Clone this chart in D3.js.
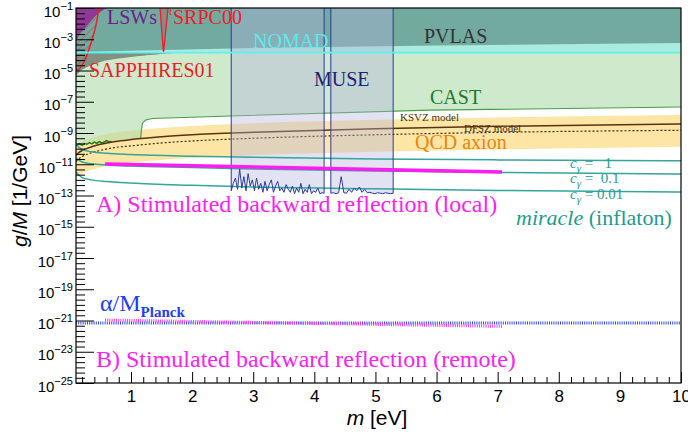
<!DOCTYPE html>
<html>
<head>
<meta charset="utf-8">
<script src="https://d3js.org/d3.v7.min.js"></script>
<style>
  body { margin: 0; background: #fff; }
  svg { display: block; }
  .serif { font-family: "Liberation Serif", "Times New Roman", serif; }
  .sans { font-family: "Liberation Sans", Arial, sans-serif; }
</style>
</head>
<body>
<div id="chart"></div>
<script>
// ---- data (m in eV, g/M in 1/GeV) ----
var qcdM      = [0.1, 0.15, 0.2, 0.3, 0.5, 0.75, 1, 1.5, 2, 3, 5, 7, 10];
var qcdTop    = [1.4e-10, 2.1e-10, 2.8e-10, 4.2e-10, 7e-10, 1.06e-9, 1.4e-9, 2.1e-9, 2.8e-9, 4.2e-9, 7e-9, 9.9e-9, 1.4e-8];
var qcdBottom = [1.3e-12, 1.9e-12, 2.5e-12, 3.8e-12, 6.3e-12, 9.5e-12, 1.3e-11, 1.9e-11, 2.5e-11, 3.8e-11, 6.3e-11, 8.8e-11, 1.3e-10];
var ksvz      = [3.8e-11, 5.7e-11, 7.6e-11, 1.1e-10, 1.9e-10, 2.9e-10, 3.8e-10, 5.7e-10, 7.6e-10, 1.1e-9, 1.9e-9, 2.7e-9, 3.8e-9];
var dfsz      = [1.5e-11, 2.3e-11, 3.1e-11, 4.6e-11, 7.7e-11, 1.2e-10, 1.5e-10, 2.3e-10, 3.1e-10, 4.6e-10, 7.7e-10, 1.1e-9, 1.5e-9];

var castM = [0.1, 0.49, 0.98, 1.16, 1.17, 1.19, 1.24, 1.35, 2.62, 5.89, 10];
var castG = [1.7e-10, 2.3e-10, 4.2e-10, 4.8e-10, 1.55e-9, 4.4e-9, 6.8e-9, 8.5e-9, 1.23e-8, 2.9e-8, 4.6e-8];

var lowCastM = [0.12, 0.16, 0.2, 0.24, 0.28, 0.32, 0.36, 0.4, 0.44, 0.48, 0.52, 0.56, 0.6, 0.64, 0.68];
var lowCastG = [1.7e-10, 2.0e-10, 1.6e-10, 2.1e-10, 1.9e-10, 2.4e-10, 2.0e-10, 2.6e-10, 2.2e-10, 2.8e-10, 2.3e-10, 2.6e-10, 3.3e-10, 2.7e-10, 2.9e-10];

var nomadG = 1.4e-4;
var pvlasM = [0.1, 3, 6, 10];
var pvlasG = [1.5e-4, 2.75e-4, 4e-4, 5.75e-4];

var wedgeM = [0.1, 0.1, 0.18, 0.25, 0.5, 1, 1.7];
var wedgeG = [1.4e-4, 5.1e-6, 1.0e-5, 1.45e-5, 3.5e-5, 7.2e-5, 1.3e-4];

var lswM = [0.1, 0.1, 0.15, 0.25, 0.33, 0.42, 0.52, 0.6];
var lswG = [1e-1, 6.6e-4, 1.9e-3, 5.2e-3, 1.26e-2, 3.1e-2, 6.4e-2, 1e-1];

var sapphM = [0.476, 0.427, 0.362, 0.296, 0.231, 0.165, 0.116, 0.1];
var sapphG = [1e-1, 8.1e-3, 8.9e-4, 1.5e-4, 3.5e-5, 1.45e-5, 1.07e-5, 1.45e-5];

var srpcM = [1.475, 1.532, 1.606];
var srpcG = [1e-1, 1.3e-4, 1e-1];

var miracleM    = [0.1, 0.2, 0.35, 0.6, 1, 2, 3, 5, 7, 10];
var miracleC1   = [1.78e-10, 8.9e-11, 6.3e-11, 5.0e-11, 4.2e-11, 3.3e-11, 2.8e-11, 2.2e-11, 1.9e-11, 1.66e-11];
var miracleC01  = [2.5e-11, 1.4e-11, 1.07e-11, 8.9e-12, 7.6e-12, 6.3e-12, 5.0e-12, 3.7e-12, 3.0e-12, 2.4e-12];
var miracleC001 = [3.2e-12, 1.4e-12, 1.0e-12, 7.9e-13, 6.3e-13, 4.5e-13, 3.5e-13, 2.75e-13, 2.1e-13, 1.66e-13];

// MUSE: two wavelength windows, jagged lower edge sampled evenly in m
var muse1Range = [2.64, 4.16];
var muse1 = [2e-13, 6e-13, 1.3e-12, 2.5e-13, 5e-12, 3e-13, 1.6e-12, 2e-13, 2.5e-12, 4e-13, 1e-12, 2e-13, 1.3e-12, 2.5e-13, 6e-13,
             1.6e-13, 8e-13, 2e-13, 5e-13, 1e-12, 1.6e-13, 4e-13, 8e-13, 2e-13, 3e-13, 1.6e-13, 5e-13, 2.5e-13, 1.6e-13, 4e-13,
             1.3e-13, 3e-13, 1.6e-13, 6e-13, 1.3e-13, 2.5e-13, 1.6e-13, 5e-13, 1.3e-13, 2e-13, 1.6e-13, 3e-13, 1.3e-13, 1.5e-13, 1.4e-13];
var muse2Range = [4.27, 5.29];
var muse2 = [1.4e-13, 1.5e-13, 1.3e-13, 1.5e-13, 1.6e-12, 1.5e-13, 1.4e-13, 2.5e-13, 1.6e-13, 3e-13, 2e-13, 3.5e-13, 1.6e-13,
             2.5e-13, 1.5e-13, 1.6e-13, 1.4e-13, 1.3e-13, 1.5e-13, 1.4e-13, 1.3e-13, 1.5e-13, 1.4e-13, 1.3e-13, 1.4e-13];

var localM = [0.575, 7.07];
var localG = [1.05e-11, 3.2e-12];
var remoteM = [0.575, 7.07];
var remoteG = [1.07e-21, 4.2e-22];
var planckM = [0.1, 10];
var planckG = [6.9e-22, 6.9e-22];

var xTicks = [1, 2, 3, 4, 5, 6, 7, 8, 9, 10];
var yTickExp = [-1, -3, -5, -7, -9, -11, -13, -15, -17, -19, -21, -23, -25];

// ---- setup ----
var W = 688, H = 434;
var L = 76, R = 681, T = 8, B = 383;

var x = d3.scaleLinear().domain([0.1, 10]).range([L, R]);
var y = d3.scaleLog().domain([1e-25, 1e-1]).range([B, T]);

var svg = d3.select('#chart').append('svg').attr('width', W).attr('height', H);
var defs = svg.append('defs');
defs.append('clipPath').attr('id', 'plot').append('rect')
  .attr('x', L).attr('y', T).attr('width', R - L).attr('height', B - T);
var hatch = defs.append('pattern').attr('id', 'hatch')
  .attr('patternUnits', 'userSpaceOnUse').attr('width', 5).attr('height', 5)
  .attr('patternTransform', 'rotate(45)');
hatch.append('line').attr('x1', 0).attr('y1', 0).attr('x2', 0).attr('y2', 5)
  .attr('stroke', '#e8202a').attr('stroke-width', 0.8);

function pts(ms, gs) {
  return ms.map(function(m, i) { return [m, gs[i]]; });
}
function spread(range, gs) {
  var n = gs.length;
  return gs.map(function(g, i) { return [range[0] + i * (range[1] - range[0]) / (n - 1), g]; });
}

var line = d3.line().x(function(d) { return x(d[0]); }).y(function(d) { return y(d[1]); });
var smooth = d3.line().curve(d3.curveMonotoneX).x(function(d) { return x(d[0]); }).y(function(d) { return y(d[1]); });
var round = d3.line().curve(d3.curveCatmullRom).x(function(d) { return x(d[0]); }).y(function(d) { return y(d[1]); });

var g = svg.append('g').attr('clip-path', 'url(#plot)');

// QCD axion band
var band = qcdM.map(function(m, i) { return [m, qcdTop[i], qcdBottom[i]]; });
g.append('path').datum(band)
  .attr('d', d3.area().curve(d3.curveMonotoneX)
    .x(function(d) { return x(d[0]); })
    .y0(function(d) { return y(d[2]); })
    .y1(function(d) { return y(d[1]); }))
  .attr('fill', '#fde5a6');

// CAST (helioscope) region, semi transparent so the band shows olive underneath
var cast = [[0.1, 1e-1]].concat(pts(castM, castG)).concat([[10, 1e-1]]);
g.append('path').datum(cast).attr('d', line)
  .attr('fill', '#afdaaa').attr('fill-opacity', 0.6);

// NOMAD + PVLAS
g.append('path').datum([[0.1, 1e-1], [0.1, nomadG], [10, nomadG], [10, 1e-1]])
  .attr('d', line).attr('fill', '#a9ebde');
g.append('path').datum([[0.1, 1e-1]].concat(pts(pvlasM, pvlasG)).concat([[10, 1e-1]]))
  .attr('d', line).attr('fill', '#73aaa0');

// grey wedge below NOMAD at low mass
g.append('path').datum(pts(wedgeM, wedgeG)).attr('d', round)
  .attr('fill', '#5f6a64').attr('fill-opacity', 0.7);

// LSW purple corner
g.append('path').datum(pts(lswM, lswG)).attr('d', round)
  .attr('fill', '#8a2f9e').attr('fill-opacity', 0.9);

// SAPPHIRES hatched region + outline
var sapph = pts(sapphM, sapphG);
g.append('path').datum(sapph.concat([[0.1, 1e-1]])).attr('d', line)
  .attr('fill', 'url(#hatch)');
g.append('path').datum(sapph).attr('d', round)
  .attr('fill', 'none').attr('stroke', '#e8202a').attr('stroke-width', 1.5);

// SRPC00
g.append('path').datum(pts(srpcM, srpcG)).attr('d', line)
  .attr('fill', '#e8202a').attr('fill-opacity', 0.25)
  .attr('stroke', '#e8202a').attr('stroke-width', 1.3);

// CAST edge and the low mass green curve
g.append('path').datum(pts(castM.slice(3), castG.slice(3))).attr('d', line)
  .attr('fill', 'none').attr('stroke', '#4a9e4a').attr('stroke-width', 1.1);
g.append('path').datum(pts(lowCastM, lowCastG)).attr('d', line)
  .attr('fill', 'none').attr('stroke', '#1d7a1d').attr('stroke-width', 1.5);

// KSVZ / DFSZ
g.append('path').datum(pts(qcdM, ksvz)).attr('d', smooth)
  .attr('fill', 'none').attr('stroke', '#5a3210').attr('stroke-width', 1.5);
g.append('path').datum(pts(qcdM, dfsz)).attr('d', smooth)
  .attr('fill', 'none').attr('stroke', '#3a2a10').attr('stroke-width', 1.2)
  .attr('stroke-dasharray', '2,2');

// MUSE boxes (fill)
function museShape(range, vals) {
  return [[range[0], 1e-1]].concat(spread(range, vals)).concat([[range[1], 1e-1]]);
}
[[muse1Range, muse1], [muse2Range, muse2]].forEach(function(mu) {
  g.append('path').datum(museShape(mu[0], mu[1])).attr('d', line)
    .attr('fill', '#b4b4dc').attr('fill-opacity', 0.38);
});

// miracle lines
[miracleC1, miracleC01, miracleC001].forEach(function(vals) {
  g.append('path').datum(pts(miracleM, vals)).attr('d', smooth)
    .attr('fill', 'none').attr('stroke', '#33a59c').attr('stroke-width', 1.5);
});

// MUSE outlines
[[muse1Range, muse1], [muse2Range, muse2]].forEach(function(mu) {
  g.append('path').datum(museShape(mu[0], mu[1])).attr('d', line)
    .attr('fill', 'none').attr('stroke', '#2a3a9e').attr('stroke-width', 1);
});

// NOMAD line
g.append('path').datum([[0.1, nomadG], [10, nomadG]]).attr('d', line)
  .attr('stroke', '#5ff2ec').attr('stroke-width', 1.8);

// A) local
g.append('path').datum(pts(localM, localG)).attr('d', line)
  .attr('stroke', '#ff1cf0').attr('stroke-width', 3.5);

// alpha / M_Planck and B) remote, drawn as dense dotted bands
g.append('path').datum(pts(planckM, planckG)).attr('d', line)
  .attr('stroke', '#3348e8').attr('stroke-width', 3).attr('stroke-dasharray', '1,1.2');
g.append('path').datum(pts(remoteM, remoteG)).attr('d', line)
  .attr('stroke', '#f03cf0').attr('stroke-width', 3).attr('stroke-dasharray', '1,1.2');

// ---- labels ----
function label(txt, px, py, size, color, cls) {
  return svg.append('text').attr('class', cls || 'serif')
    .attr('x', px).attr('y', py).attr('font-size', size).attr('fill', color).text(txt);
}
label('LSWs', 107, 24, 20, '#6b1f8a');
label('t', 169, 15, 11, '#ee1c25');
label('SRPC00', 173, 24, 20, '#ee1c25');
label('SAPPHIRES01', 89, 77, 20, '#ee1c25');
label('NOMAD', 253, 48, 20, '#5eeaea');
label('PVLAS', 424, 43, 20, '#333333');
label('MUSE', 314, 86, 20, '#1a2470');
label('CAST', 430, 104, 20, '#1b7a2a');
label('KSVZ model', 400, 121, 11, '#4a2c0a');
label('DFSZ model', 464, 132, 11, '#4a2c0a');
label('QCD axion', 415, 149, 20, '#e8870f');
label('A) Stimulated backward reflection (local)', 96, 212, 24, '#ff22ee');
label('B) Stimulated backward reflection (remote)', 96, 367, 24, '#ff22ee');

var cLabels = [['  1', 168], [' 0.1', 183], ['0.01', 199]];
cLabels.forEach(function(c) {
  var t = svg.append('text').attr('class', 'serif').attr('x', 570).attr('y', c[1])
    .attr('font-size', 15).attr('fill', '#2a9a92').attr('xml:space', 'preserve');
  t.append('tspan').attr('font-style', 'italic').text('c');
  t.append('tspan').attr('font-style', 'italic').attr('font-size', 11).attr('dy', 4).text('γ');
  t.append('tspan').attr('dy', -4).text(' = ' + c[0]);
});

var mir = svg.append('text').attr('class', 'serif').attr('x', 516).attr('y', 225)
  .attr('font-size', 22).attr('fill', '#1f9a90');
mir.append('tspan').attr('font-style', 'italic').text('miracle');
mir.append('tspan').text(' (inflaton)');

var al = svg.append('text').attr('class', 'serif').attr('x', 100).attr('y', 311)
  .attr('font-size', 24).attr('fill', '#2040f0');
al.append('tspan').text('α/M');
al.append('tspan').attr('font-size', 15).attr('font-weight', 'bold').attr('dy', 6).text('Planck');

// ---- axes ----
var xMinor = d3.range(0.2, 10, 0.2).filter(function(v) { return Math.abs(v - Math.round(v)) > 1e-6; });
svg.append('g').attr('transform', 'translate(0,' + B + ')')
  .call(d3.axisBottom(x).tickValues(xMinor).tickSize(-6).tickFormat(''))
  .call(function(s) { s.select('.domain').remove(); });
var xa = svg.append('g').attr('class', 'sans').attr('transform', 'translate(0,' + B + ')')
  .call(d3.axisBottom(x).tickValues(xTicks).tickSize(-11).tickPadding(7).tickFormat(d3.format('d')));
xa.selectAll('text').attr('font-size', 17).attr('fill', '#000').attr('font-family', '"Liberation Sans", Arial, sans-serif');
xa.select('.domain').remove();

var yMinor = d3.range(0, 73).filter(function(k) { return k % 6 !== 0; })
  .map(function(k) { return Math.pow(10, -25 + k / 3); });
svg.append('g').attr('transform', 'translate(' + L + ',0)')
  .call(d3.axisLeft(y).tickValues(yMinor).tickSize(-9).tickFormat(''))
  .call(function(s) { s.select('.domain').remove(); });
var yVals = yTickExp.map(function(e) { return Math.pow(10, e); });
var ya = svg.append('g').attr('transform', 'translate(' + L + ',0)')
  .call(d3.axisLeft(y).tickValues(yVals).tickSize(-18).tickFormat(''));
ya.select('.domain').remove();
ya.selectAll('.tick').each(function(d, i) {
  var t = d3.select(this).append('text').attr('class', 'sans')
    .attr('x', -3).attr('y', 8).attr('text-anchor', 'end')
    .attr('font-size', 15).attr('fill', '#000');
  t.append('tspan').text('10');
  t.append('tspan').attr('font-size', 11).attr('dy', -7).text('\u2212' + (-yTickExp[i]));
});

svg.selectAll('.tick line').attr('stroke', '#000');

// frame
svg.append('rect').attr('x', L).attr('y', T).attr('width', R - L).attr('height', B - T)
  .attr('fill', 'none').attr('stroke', '#000').attr('stroke-width', 1.2);

// axis titles
var yt = svg.append('text').attr('class', 'sans').attr('font-size', 21)
  .attr('text-anchor', 'middle').attr('transform', 'translate(27,191) rotate(-90)');
yt.append('tspan').attr('font-style', 'italic').text('g');
yt.append('tspan').text('/');
yt.append('tspan').attr('font-style', 'italic').text('M');
yt.append('tspan').text(' [1/GeV]');

var xt = svg.append('text').attr('class', 'sans').attr('font-size', 21)
  .attr('text-anchor', 'middle').attr('x', 377).attr('y', 425);
xt.append('tspan').attr('font-style', 'italic').text('m');
xt.append('tspan').text(' [eV]');
</script>
</body>
</html>
